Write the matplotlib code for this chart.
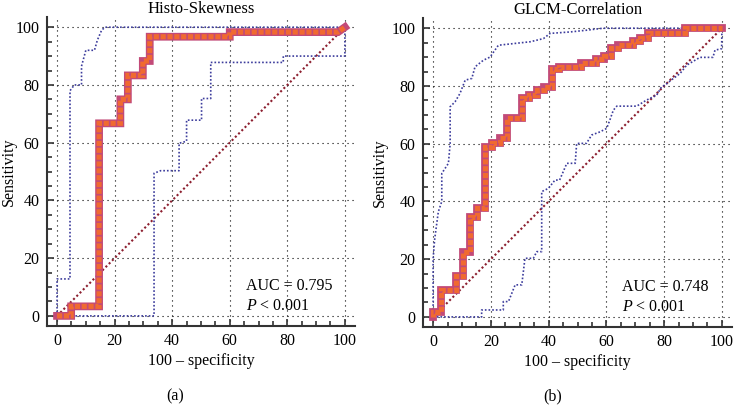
import matplotlib
matplotlib.use("Agg")
import matplotlib.pyplot as plt
from matplotlib.ticker import MultipleLocator

plt.rcParams['font.family'] = ['Liberation Serif', 'DejaVu Serif']
plt.rcParams['mathtext.fontset'] = 'custom'
plt.rcParams['mathtext.rm'] = 'Liberation Serif'
plt.rcParams['mathtext.it'] = 'Liberation Serif:italic'

# ---------------- data: Histo-Skewness ----------------
skew_roc_x = [0, 4.9, 4.9, 14.6, 14.6, 14.6, 22.0, 22.0, 24.6, 24.6, 29.8, 29.8, 32.2, 32.2, 60.0, 60.0, 97.6, 100]
skew_roc_y = [0, 0, 3.3, 3.3, 65.0, 66.7, 66.7, 75.0, 75.0, 83.3, 83.3, 88.3, 88.3, 96.7, 96.7, 98.3, 98.3, 100]
skew_up_x = [0, 0, 4.5, 4.5, 6.0, 8.5, 8.5, 10.0, 13.0, 14.0, 15.5, 16.7, 100]
skew_up_y = [0, 12.8, 12.8, 78.0, 80.0, 80.0, 86.5, 92.0, 92.0, 95.5, 99.0, 100, 100]
skew_lo_x = [0, 33.7, 33.7, 36.0, 42.4, 42.4, 45.0, 45.0, 50.2, 50.2, 53.4, 53.4, 78.6, 78.6, 100, 100]
skew_lo_y = [0, 0, 49.4, 50.3, 50.3, 59.8, 60.5, 67.8, 67.8, 75.3, 75.3, 87.8, 87.8, 90.0, 90.0, 100]
skew_auc = "AUC = 0.795"

# ---------------- data: GLCM-Correlation ----------------
corr_roc_x = [0, 0, 2.6, 2.6, 7.9, 7.9, 10.3, 10.3, 12.8, 12.8, 15.3, 15.3, 18.0, 18.0, 20.5, 20.5,
              23.0, 23.0, 25.6, 25.6, 30.7, 30.7, 33.3, 33.3, 35.9, 35.9, 38.4, 38.4, 41.0, 41.0,
              43.6, 43.6, 51.3, 51.3, 56.4, 56.4, 59.0, 59.0, 61.5, 61.5, 64.1, 64.1, 69.2, 69.2,
              71.8, 71.8, 74.4, 74.4, 87.2, 87.2, 100]
corr_roc_y = [0, 1.7, 1.7, 9.3, 9.3, 14.0, 14.0, 22.6, 22.6, 34.7, 34.7, 37.6, 37.6, 58.9, 58.9, 60.3,
              60.3, 62.0, 62.0, 69.0, 69.0, 75.8, 75.8, 77.0, 77.0, 78.5, 78.5, 79.5, 79.5, 86.0,
              86.0, 86.6, 86.6, 87.9, 87.9, 89.5, 89.5, 90.5, 90.5, 93.0, 93.0, 94.3, 94.3, 95.6,
              95.6, 96.5, 96.5, 98.3, 98.3, 100, 100]
corr_up_x = [0, 0, 0.5, 1.8, 3.0, 3.0, 5.3, 5.9, 5.9, 7.6, 9.3, 11.1, 13.4, 14.5, 17.4, 19.7,
             22.6, 33.6, 38.2, 40.5, 47.4, 53.1, 58.9, 100]
corr_up_y = [0, 20.0, 26.6, 36.4, 40.0, 49.7, 53.2, 60.0, 72.8, 74.5, 77.4, 82.0, 82.6, 86.6, 88.9, 90.0,
             94.1, 95.3, 96.4, 98.2, 98.7, 99.3, 100, 100]
corr_lo_x = [0, 16.8, 16.8, 24.3, 24.3, 26.1, 28.4, 30.7, 31.8, 34.7, 35.9, 37.6, 37.6, 39.9, 42.2,
             43.8, 46.3, 49.2, 49.7, 53.1, 54.9, 57.8, 60.1, 61.2, 62.4, 63.6, 70.5, 73.9, 77.4,
             79.1, 80.3, 83.2, 85.5, 87.8, 92.4, 96.9, 97.6, 99.9, 100]
corr_lo_y = [0, 0, 2.4, 2.4, 5.3, 5.3, 11.1, 11.1, 20.3, 20.3, 22.6, 22.6, 43.4, 44.5, 47.4,
             47.4, 53.2, 53.2, 60.1, 60.1, 63.0, 64.1, 65.3, 68.2, 71.6, 73.0, 73.0, 75.1, 76.8,
             79.7, 80.3, 82.6, 84.3, 87.2, 89.9, 89.9, 92.4, 92.9, 100]
corr_auc = "AUC = 0.748"

diag = [0, 100]
ticks = [0, 20, 40, 60, 80, 100]

ORANGE = '#f06a30'
EDGE = '#c24a78'
BLUE = '#3c3c9c'
DRED = '#8c1f2f'

fig = plt.figure(figsize=(7.34, 4.18), dpi=100)

panels = [
    dict(pos=[0.064, 0.2201, 0.4196, 0.739], title="Histo-Skewness", label="(a)", lx=0.238, ylx=-0.098,
         rx=skew_roc_x, ry=skew_roc_y, ux=skew_up_x, uy=skew_up_y, lox=skew_lo_x, loy=skew_lo_y, auc=skew_auc),
    dict(pos=[0.5763, 0.2177, 0.421, 0.739], title="GLCM-Correlation", label="(b)", lx=0.7525, ylx=-0.115,
         rx=corr_roc_x, ry=corr_roc_y, ux=corr_up_x, uy=corr_up_y, lox=corr_lo_x, loy=corr_lo_y, auc=corr_auc),
]

for p in panels:
    ax = fig.add_axes(p['pos'])
    ax.set_xlim(-3.5, 103.5)
    ax.set_ylim(-3.5, 103.5)
    for s in ['top', 'right']:
        ax.spines[s].set_visible(False)
    for s in ['left', 'bottom']:
        ax.spines[s].set_linewidth(1.5)
        ax.spines[s].set_color('#333333')
    ax.set_xticks(ticks)
    ax.set_yticks(ticks)
    ax.xaxis.set_minor_locator(MultipleLocator(5))
    ax.yaxis.set_minor_locator(MultipleLocator(5))
    ax.tick_params(which='both', direction='in', color='#333333', width=1.2)
    ax.tick_params(which='major', length=5, labelsize=11.5)
    ax.tick_params(axis='x', which='major', pad=5)
    ax.tick_params(axis='y', which='major', pad=5.5)
    ax.tick_params(which='minor', length=3.5)
    ax.grid(True, which='major', color='black', linestyle=(0, (1, 3.5)), linewidth=0.8)
    ax.set_axisbelow(True)

    ax.plot(diag, diag, color=DRED, linestyle=(0, (1, 1.2)), linewidth=1.5, zorder=2)
    ax.plot(p['ux'], p['uy'], color=BLUE, linestyle=(0, (1, 1.2)), linewidth=1.2, zorder=2)
    ax.plot(p['lox'], p['loy'], color=BLUE, linestyle=(0, (1, 1.2)), linewidth=1.2, zorder=2)

    # ROC band: pink outline with orange dashed core -> chain of squares
    ax.plot(p['rx'], p['ry'], color=EDGE, linewidth=5.6, solid_joinstyle='miter',
            solid_capstyle='projecting', zorder=3)
    ax.plot(p['rx'], p['ry'], color=ORANGE, linewidth=3.7, linestyle=(0, (1.0, 0.33)),
            dash_capstyle='butt', dash_joinstyle='miter', zorder=4)

    ax.set_title(p['title'], fontsize=12, pad=3)
    ax.set_ylabel("Sensitivity", fontsize=11.5)
    ax.yaxis.set_label_coords(p['ylx'], 0.5)
    ax.set_xlabel("100 \u2013 specificity", fontsize=11.5, labelpad=3)
    ax.text(65.5, 9, p['auc'], fontsize=11.5, ha='left', va='baseline')
    ax.text(65.5, 2, "$P$ < 0.001", fontsize=11.5, ha='left', va='baseline')
    fig.text(p['lx'], 0.051, p['label'], fontsize=11.5, ha='center', va='center')

fig.savefig("out.png", dpi=100)
